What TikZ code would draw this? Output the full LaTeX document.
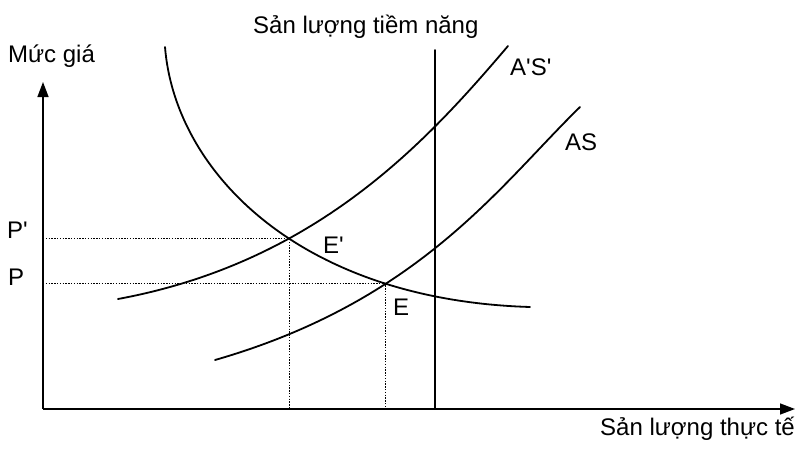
\documentclass[tikz,border=0pt]{standalone}
\usepackage{fontspec}
\setmainfont{Liberation Sans}
\usetikzlibrary{arrows.meta,intersections}
\begin{document}
\begin{tikzpicture}[x=1pt,y=-1pt,
  curve/.style={line width=1.8pt, line join=round, line cap=round},
  axis/.style={line width=1.4pt,-{Triangle[length=15pt,width=11pt]}},
  guide/.style={line width=0.9pt, dash pattern=on 1.4pt off 1.4pt},
  lbl/.style={font=\fontsize{24}{28}\selectfont, inner sep=0pt, anchor=base west}]
\useasboundingbox (0,0) rectangle (798,463);
\coordinate (O) at (43,409);
\coordinate (Ytip) at (43,82);
\coordinate (Xtip) at (795,409);
\coordinate (Vtop) at (435,50);
\coordinate (Vbot) at (435,409);
% AD
\draw[curve, name path=AD] (165,47) .. controls (175,172) and (300,300) .. (530,307);
% A'S'
\draw[curve, name path=ASp] (118,299) .. controls (318,262) and (428,140) .. (508,46);
% AS
\draw[curve, name path=AS] (215,360) .. controls (420,301) and (500,185) .. (580,107);
\path[name intersections={of=AD and ASp, by=Ep}];
\path[name intersections={of=AD and AS, by=E}];
% guides
\draw[guide] (O |- Ep) -- (Ep) -- (Ep |- O);
\draw[guide] (O |- E) -- (E) -- (E |- O);
% axes
\draw[axis] (O) -- (Ytip);
\draw[axis] (O) -- (Xtip);
% potential output
\draw[curve] (Vtop) -- (Vbot);
% labels
\node[lbl] (ly) at (8,62) {Mức giá};
\node[lbl] (lt) at (253,33) {Sản lượng tiềm năng};
\node[lbl] (las2) at (510,75) {A\textquotesingle S\textquotesingle};
\node[lbl] (las) at (565,150) {AS};
\node[lbl] (lpp) at (7,238) {P\textquotesingle};
\node[lbl] (lp) at (8,285) {P};
\node[lbl] (lep) at (323,253) {E\textquotesingle};
\node[lbl] (le) at (393,315) {E};
\node[lbl] (lx) at (600,435) {Sản lượng thực tế};
\end{tikzpicture}
\end{document}
